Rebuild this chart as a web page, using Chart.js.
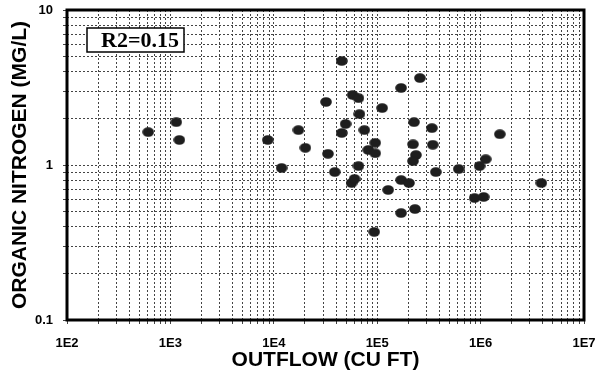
<!DOCTYPE html>
<html>
<head>
<meta charset="utf-8">
<script src="https://cdn.jsdelivr.net/npm/chart.js@4/dist/chart.umd.min.js"></script>
<style>
  body { margin: 0; background: #fff; }
  canvas { display: block; }
</style>
</head>
<body>
<canvas id="grafico" width="597" height="376"></canvas>
<script>
// valores (outflow en cu ft, nitrogeno organico en mg/l)
const outflow = [
  610, 1140, 1220, 8750, 11900, 17300, 20200, 32000, 33400, 38900,
  45400, 45400, 49500, 56500, 60400, 57800, 65900, 65900, 67400, 75100,
  82000, 93600, 95700, 95700, 111700, 127600, 170200, 170200, 170200, 203000,
  227000, 222000, 237000, 222000, 232000, 259000, 338000, 345000, 369000, 614000,
  978000, 1120000, 875000, 1070000, 1535000, 3870000
];
const nitrogeno = [
  1.63, 1.89, 1.45, 1.45, 0.957, 1.68, 1.29, 2.55, 1.18, 0.901,
  4.69, 1.61, 1.84, 0.765, 0.813, 2.83, 2.70, 0.985, 2.13, 1.68,
  1.25, 0.370, 1.39, 1.19, 2.33, 0.690, 3.14, 0.800, 0.490, 0.765,
  1.89, 1.36, 1.16, 1.06, 0.520, 3.64, 1.73, 1.35, 0.901, 0.942,
  0.985, 1.09, 0.612, 0.622, 1.58, 0.765
];
const xTickLabels = ["1E2", "1E3", "1E4", "1E5", "1E6", "1E7"];
const yTickLabels = ["0.1", "1", "10"];
const xDecadas = [2, 3, 4, 5, 6, 7];
const yDecadas = [-1, 0, 1];
const textoR2 = "R2=0.15";

const fuente = "'Liberation Sans', Arial, sans-serif";

// marca eliptica como en el original
const marca = document.createElement("canvas");
marca.width = 12;
marca.height = 10;
const mctx = marca.getContext("2d");
mctx.fillStyle = "#1e1e1e";
mctx.beginPath();
mctx.ellipse(6, 5, 5.8, 4.8, 0, 0, Math.PI * 2);
mctx.fill();

// genera ticks 1..9 por decada
function ticksLog(decadas) {
  const t = [];
  for (let i = 0; i < decadas.length; i++) {
    const base = Math.pow(10, decadas[i]);
    if (i === decadas.length - 1) {
      t.push({ value: base });
    } else {
      for (let m = 1; m <= 9; m++) t.push({ value: m * base });
    }
  }
  return t;
}

function etiqueta(valor, decadas, labels) {
  for (let i = 0; i < decadas.length; i++) {
    const p = Math.pow(10, decadas[i]);
    if (Math.abs(valor - p) / p < 1e-9) return labels[i];
  }
  return "";
}

const puntos = outflow.map((x, i) => ({ x: x, y: nitrogeno[i] }));

const marco = {
  id: "marco",
  afterDraw(chart) {
    const ctx = chart.ctx;
    const a = chart.chartArea;
    ctx.save();
    ctx.strokeStyle = "#000";
    ctx.lineWidth = 3;
    ctx.strokeRect(a.left, a.top, a.right - a.left, a.bottom - a.top);
    // recuadro R2
    ctx.fillStyle = "#fff";
    ctx.fillRect(87, 28, 97, 24);
    ctx.lineWidth = 1.5;
    ctx.strokeRect(87, 28, 97, 24);
    ctx.fillStyle = "#000";
    ctx.font = "bold 22px 'Liberation Serif', 'Times New Roman', serif";
    ctx.textBaseline = "middle";
    ctx.textAlign = "left";
    ctx.fillText(textoR2, 101, 41);
    ctx.restore();
  }
};

const ctx = document.getElementById("grafico").getContext("2d");
const grafico = new Chart(ctx, {
  type: "scatter",
  data: {
    datasets: [
      {
        data: puntos,
        pointStyle: marca,
        pointRadius: 6,
        pointHoverRadius: 6,
        backgroundColor: "#1e1e1e",
        borderWidth: 0,
      },
    ],
  },
  options: {
    responsive: false,
    animation: false,
    layout: { padding: { top: 10, right: 13, left: 0, bottom: 0 } },
    plugins: {
      legend: { display: false },
      tooltip: { enabled: false },
    },
    scales: {
      x: {
        type: "logarithmic",
        min: 100,
        max: 10000000,
        afterBuildTicks: (scale) => { scale.ticks = ticksLog(xDecadas); },
        afterFit: (scale) => {
          scale.height = 56;
          scale.paddingLeft = 0;
          scale.paddingRight = 0;
        },
        ticks: {
          autoSkip: false,
          maxRotation: 0,
          padding: 12,
          color: "#000",
          font: { family: fuente, size: 13, weight: "bold" },
          callback: (v) => etiqueta(v, xDecadas, xTickLabels),
        },
        grid: {
          color: "#444",
          lineWidth: 1,
          tickLength: 4,
          borderDash: [2, 2],
        },
        border: { display: false, dash: [2, 2] },
        title: {
          display: true,
          text: "OUTFLOW (CU FT)",
          color: "#000",
          font: { family: fuente, size: 21, weight: "bold" },
          padding: { top: 0, bottom: 3 },
        },
      },
      y: {
        type: "logarithmic",
        min: 0.1,
        max: 10,
        afterBuildTicks: (scale) => { scale.ticks = ticksLog(yDecadas); },
        afterFit: (scale) => {
          scale.width = 67;
          scale.paddingTop = 0;
          scale.paddingBottom = 0;
        },
        ticks: {
          autoSkip: false,
          padding: 10,
          color: "#000",
          font: { family: fuente, size: 13, weight: "bold" },
          callback: (v) => etiqueta(v, yDecadas, yTickLabels),
        },
        grid: {
          color: "#444",
          lineWidth: 1,
          tickLength: 4,
          borderDash: [2, 2],
        },
        border: { display: false, dash: [2, 2] },
        title: {
          display: true,
          text: "ORGANIC NITROGEN (MG/L)",
          color: "#000",
          font: { family: fuente, size: 21, weight: "bold" },
          padding: { top: 8, bottom: 0 },
        },
      },
    },
  },
  plugins: [marco],
});
</script>
</body>
</html>
